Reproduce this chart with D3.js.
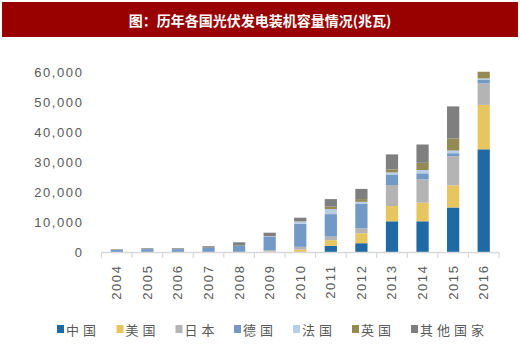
<!DOCTYPE html>
<html><head><meta charset="utf-8">
<script src="https://cdn.jsdelivr.net/npm/d3@7"></script>
<style>
body{margin:0;background:#fff;}
svg{display:block;}
</style></head>
<body>
<svg id="c" width="520" height="350"></svg>
<script>
const years = ["2004","2005","2006","2007","2008","2009","2010","2011","2012","2013","2014","2015","2016"];
const seriesNames = ["中国","美国","日本","德国","法国","英国","其他国家"];
const china   = [0,0,0,0,0,0,0,2200,3100,10400,10400,15000,34400];
const usa     = [0,0,0,0,0,300,1000,1900,3300,5100,6200,7400,14800];
const japan   = [0,0,0,0,0,400,900,1200,1700,7000,7800,9700,7200];
const germany = [850,1100,1100,1600,2300,4500,7700,7500,8100,3500,2000,1000,1100];
const france  = [0,0,0,0,0,200,700,1700,700,700,1100,900,550];
const uk      = [0,0,0,0,0,0,100,800,900,1000,2400,4000,2200];
const others  = [200,300,300,500,1100,1200,1200,2500,3400,5000,6100,10700,0];
const yTicks  = [0,10000,20000,30000,40000,50000,60000];
const title = "图：历年各国光伏发电装机容量情况(兆瓦)";

const colors = ["#1F6AA5","#E8C65F","#B4B4B4","#7399C6","#B8CDE6","#948A54","#7F7F7F"];
const seriesVals = [china,usa,japan,germany,france,uk,others];

const svg = d3.select("#c");

// title bar
svg.append("rect").attr("x",2).attr("y",2).attr("width",516).attr("height",35).attr("fill","#990000");
svg.append("text").attr("x",260).attr("y",20).attr("text-anchor","middle").attr("dominant-baseline","central")
  .attr("fill","#fff").attr("font-family","Noto Sans CJK SC").attr("font-weight","bold").attr("font-size",14)
  .text(title);

const table = years.map((y,i)=>{const o={year:y}; seriesNames.forEach((s,k)=>o[s]=seriesVals[k][i]); return o;});
const stack = d3.stack().keys(seriesNames)(table);

const x = d3.scaleBand().domain(years).range([101.5,499]).paddingInner(0.6).paddingOuter(0.3);
const y = d3.scaleLinear().domain([0,60000]).range([252.5,72.5]);

// y labels
const fmt = d3.format(",");
svg.append("g").selectAll("text").data(yTicks).join("text")
  .attr("x",83.5).attr("y",d=>y(d)).attr("text-anchor","end").attr("dominant-baseline","central")
  .attr("fill","#595959").attr("font-family","Liberation Sans, Arial").attr("font-size",13)
  .attr("letter-spacing",1.6)
  .text(d=>fmt(d));

// bars
svg.append("g").selectAll("g").data(stack).join("g").attr("fill",(d,i)=>colors[i])
  .selectAll("rect").data(d=>d).join("rect")
  .attr("x",d=>x(d.data.year)).attr("width",x.bandwidth())
  .attr("y",d=>y(d[1])).attr("height",d=>Math.max(0,y(d[0])-y(d[1])));

// x axis
const x0 = 101.5;
const gx = svg.append("g");
gx.append("line").attr("x1",x0).attr("x2",499).attr("y1",252.5).attr("y2",252.5).attr("stroke","#D9D9D9").attr("stroke-width",1.5);
const bounds = d3.range(years.length+1).map(i=>x0+i*(499-x0)/years.length);
gx.selectAll("line.t").data(bounds).join("line").attr("class","t")
  .attr("x1",d=>d).attr("x2",d=>d).attr("y1",252.5).attr("y2",258).attr("stroke","#D9D9D9").attr("stroke-width",1.2);
gx.selectAll("text").data(years).join("text")
  .attr("transform",d=>`translate(${x(d)+x.bandwidth()/2},264.5) rotate(-90)`)
  .attr("text-anchor","end").attr("dominant-baseline","central")
  .attr("fill","#595959").attr("font-family","Liberation Sans, Arial").attr("font-size",13)
  .attr("letter-spacing",1.6)
  .text(d=>d);

// legend
const legX = [57,116.5,175.5,234,293,352,411];
const lg = svg.append("g").selectAll("g").data(seriesNames).join("g")
  .attr("transform",(d,i)=>`translate(${legX[i]},329)`);
lg.append("rect").attr("x",0).attr("y",-4).attr("width",7).attr("height",8).attr("fill",(d,i)=>colors[i]);
lg.append("text").attr("x",9).attr("y",0).attr("dominant-baseline","central")
  .attr("fill","#595959").attr("font-family","Noto Sans CJK SC").attr("font-size",13)
  .attr("letter-spacing",4).text(d=>d);
</script>
</body></html>
